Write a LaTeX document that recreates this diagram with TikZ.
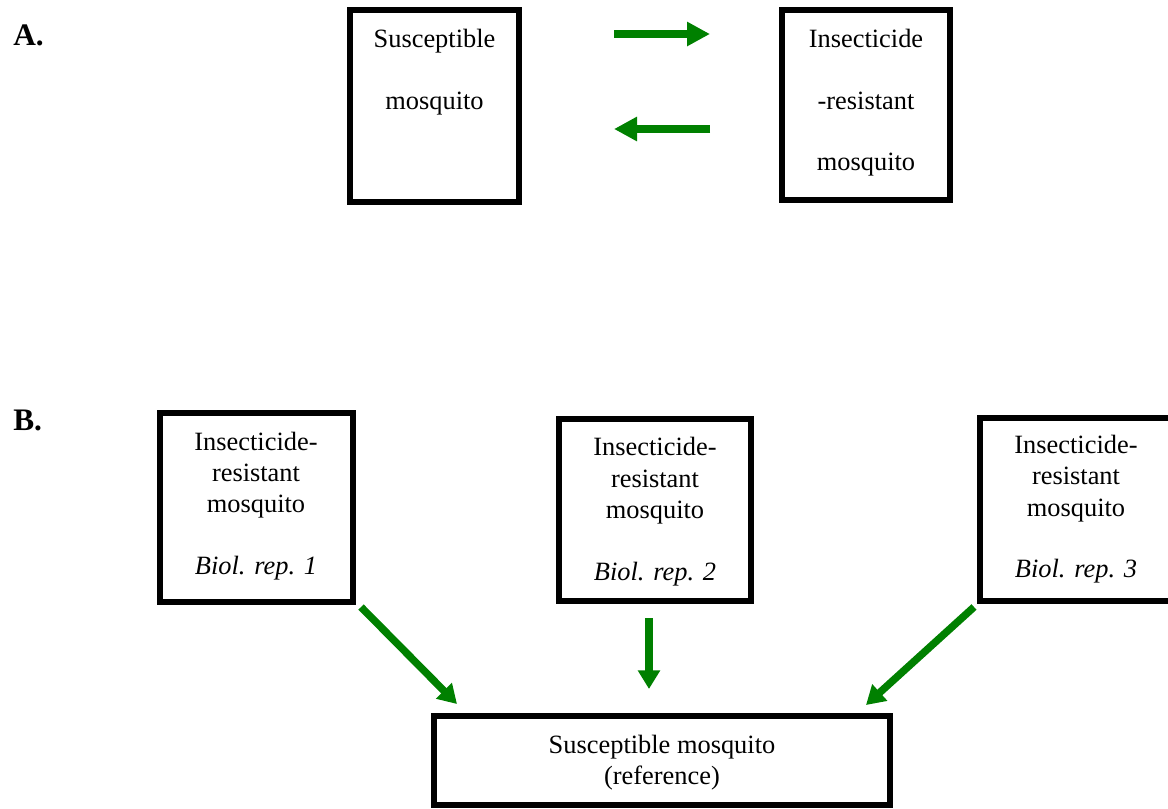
\documentclass[tikz,border=0pt]{standalone}
\usepackage{fontspec}
\setmainfont{Liberation Serif}
\usetikzlibrary{arrows.meta,fit}
\definecolor{arrowgreen}{RGB}{0,128,0}
\begin{document}
\begin{tikzpicture}[x=0.75pt,y=-0.75pt,
  box/.style={draw=black, line width=4.5pt, rectangle, inner sep=0pt},
  txt/.style={anchor=base, inner sep=0pt, font=\fontsize{19.8}{23}\selectfont},
  itxt/.style={txt, font=\fontsize{19.8}{23}\selectfont\itshape},
  lbl/.style={anchor=base west, inner sep=0pt, font=\fontsize{23.5}{28}\selectfont\bfseries},
  bigarrow/.style={draw=arrowgreen, line width=5.8pt, -{Triangle[length=17.25pt,width=17.25pt]}},
  smallarrow/.style={draw=arrowgreen, line width=5.6pt, -{Triangle[length=14pt,width=16pt]}}]
\clip (0,0) rectangle (1168,808);
% labels
\node[lbl] (labA) at (13,45) {A.};
\node[lbl] (labB) at (13,430) {B.};
% panel A boxes
\node[box, fit={(350,10) (519,202)}] (a1) {};
\node[box, fit={(782,10) (950,200)}] (a2) {};
\node[txt] (a1t1) at (434.5,47) {Susceptible};
\node[txt] (a1t2) at (434.5,109) {mosquito};
\node[txt] (a2t1) at (866,47) {Insecticide};
\node[txt] (a2t2) at (866,109) {-resistant};
\node[txt] (a2t3) at (866,170) {mosquito};
% panel A arrows
\coordinate (ar1s) at (614,34);
\coordinate (ar1e) at (710,34);
\coordinate (ar2s) at (710,129);
\coordinate (ar2e) at (614,129);
\draw[bigarrow] (ar1s) -- (ar1e);
\draw[bigarrow] (ar2s) -- (ar2e);
% panel B boxes
\node[box, fit={(160,413) (353,602)}] (b1) {};
\node[box, fit={(559,419) (751,601)}] (b2) {};
\node[box, fit={(980,418) (1172,601)}] (b3) {};
\node[box, fit={(434,716) (890,805)}] (ref) {};
\node[txt] (b1t1) at (256,450) {Insecticide-};
\node[txt] (b1t2) at (256,481) {resistant};
\node[txt] (b1t3) at (256,512) {mosquito};
\node[itxt] (b1t4) at (256,574) {Biol. rep. 1};
\node[txt] (b2t1) at (655,455) {Insecticide-};
\node[txt] (b2t2) at (655,487) {resistant};
\node[txt] (b2t3) at (655,518) {mosquito};
\node[itxt] (b2t4) at (655,580) {Biol. rep. 2};
\node[txt] (b3t1) at (1076,453) {Insecticide-};
\node[txt] (b3t2) at (1076,484) {resistant};
\node[txt] (b3t3) at (1076,516) {mosquito};
\node[itxt] (b3t4) at (1076,577) {Biol. rep. 3};
\node[txt] (reft1) at (662,753) {Susceptible mosquito};
\node[txt] (reft2) at (662,784) {(reference)};
% panel B arrows
\coordinate (br1s) at (361,607);
\coordinate (br1e) at (457,704);
\coordinate (br2s) at (649,618);
\coordinate (br2e) at (649,689);
\coordinate (br3s) at (974,607);
\coordinate (br3e) at (866,705);
\draw[smallarrow] (br1s) -- (br1e);
\draw[smallarrow] (br2s) -- (br2e);
\draw[smallarrow] (br3s) -- (br3e);
\end{tikzpicture}
\end{document}
